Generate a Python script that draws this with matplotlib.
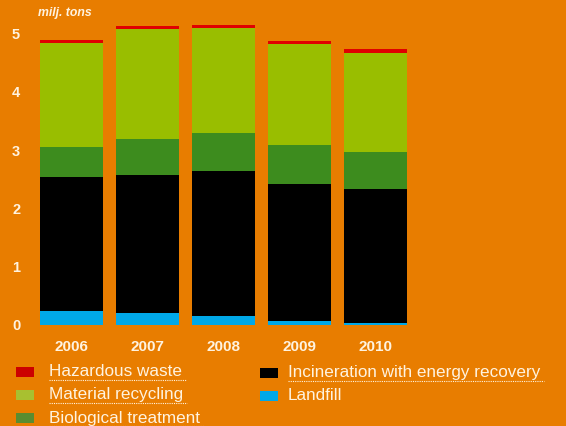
import matplotlib
matplotlib.use("Agg")
import matplotlib.pyplot as plt
from matplotlib.patches import Rectangle
from matplotlib.lines import Line2D
import numpy as np

years = ["2006", "2007", "2008", "2009", "2010"]
landfill = [0.24, 0.21, 0.15, 0.07, 0.03]
incineration = [2.30, 2.36, 2.49, 2.35, 2.31]
biological = [0.51, 0.62, 0.65, 0.67, 0.63]
material = [1.78, 1.89, 1.80, 1.73, 1.70]
hazardous = [0.05, 0.05, 0.05, 0.05, 0.07]
y_ticks = [0, 1, 2, 3, 4, 5]

series = [
    ("Landfill", landfill, "#00A8E8"),
    ("Incineration with energy recovery", incineration, "#000000"),
    ("Biological treatment", biological, "#3D8C1E"),
    ("Material recycling", material, "#99BE00"),
    ("Hazardous waste", hazardous, "#E00000"),
]

BG = "#E87D00"
TXT = "#FFF3E0"
W, H = 566, 426
fig = plt.figure(figsize=(W / 100, H / 100), dpi=100, facecolor=BG)

x_left = 71.5 - 0.5 * 76
x_right = 71.5 + 4.5 * 76
y_bot = 325
y_top = 325 - 5.2 * 58.33
ax = fig.add_axes([x_left / W, (H - y_bot) / H, (x_right - x_left) / W, (y_bot - y_top) / H])
ax.set_facecolor(BG)

x = np.arange(len(years))
bottom = np.zeros(len(years))
for name, vals, col in series:
    ax.bar(x, vals, width=0.83, bottom=bottom, color=col, linewidth=0)
    bottom += np.array(vals)

ax.set_xlim(-0.5, 4.5)
ax.set_ylim(0, 5.2)
ax.set_yticks(y_ticks)
ax.set_yticklabels([str(t) for t in y_ticks])
ax.set_xticks(x)
ax.set_xticklabels(years)
for s in ax.spines.values():
    s.set_visible(False)
ax.tick_params(axis="both", length=0, colors=TXT)
ax.tick_params(axis="x", pad=11)
for lab in ax.get_yticklabels() + ax.get_xticklabels():
    lab.set_fontfamily("Liberation Sans")
    lab.set_fontweight("bold")
    lab.set_color(TXT)
for lab in ax.get_yticklabels():
    lab.set_fontsize(10.5)
    lab.set_horizontalalignment("center")
for lab in ax.get_xticklabels():
    lab.set_fontsize(11)
ax.yaxis.set_tick_params(pad=12.5)

fig.text(38 / W, (H - 13) / H, "milj. tons", color=TXT, fontsize=8.8,
         fontstyle="italic", fontweight="bold", family="Liberation Sans",
         ha="left", va="center")

leg_items = [
    ("Hazardous waste", "#CC0000", 16, 372, 49, True),
    ("Material recycling", "#A8C030", 16, 395, 49, True),
    ("Biological treatment", "#5A8C30", 16, 418, 49, True),
    ("Incineration with energy recovery", "#000000", 260, 373, 288, True),
    ("Landfill", "#00A8E8", 260, 396, 288, False),
]
texts = []
for label, col, px, py, tx, ul in leg_items:
    fig.patches.append(Rectangle((px / W, (H - py - 5) / H), 18 / W, 10 / H,
                                 transform=fig.transFigure, facecolor=col,
                                 edgecolor="none", figure=fig))
    t = fig.text(tx / W, (H - py) / H, label, color=TXT, fontsize=12.3,
                 family="Liberation Sans", ha="left", va="center")
    texts.append((t, ul))

fig.canvas.draw()
r = fig.canvas.get_renderer()
for t, ul in texts:
    if not ul:
        continue
    bb = t.get_window_extent(r)
    yline = bb.y0 - 0.5
    fig.lines.append(Line2D([bb.x0 / W, (bb.x1 + 4) / W], [yline / H, yline / H],
                            transform=fig.transFigure, color=TXT, lw=0.8,
                            linestyle=(0, (1, 1)), figure=fig))

fig.savefig("out.png", dpi=100, facecolor=BG)
